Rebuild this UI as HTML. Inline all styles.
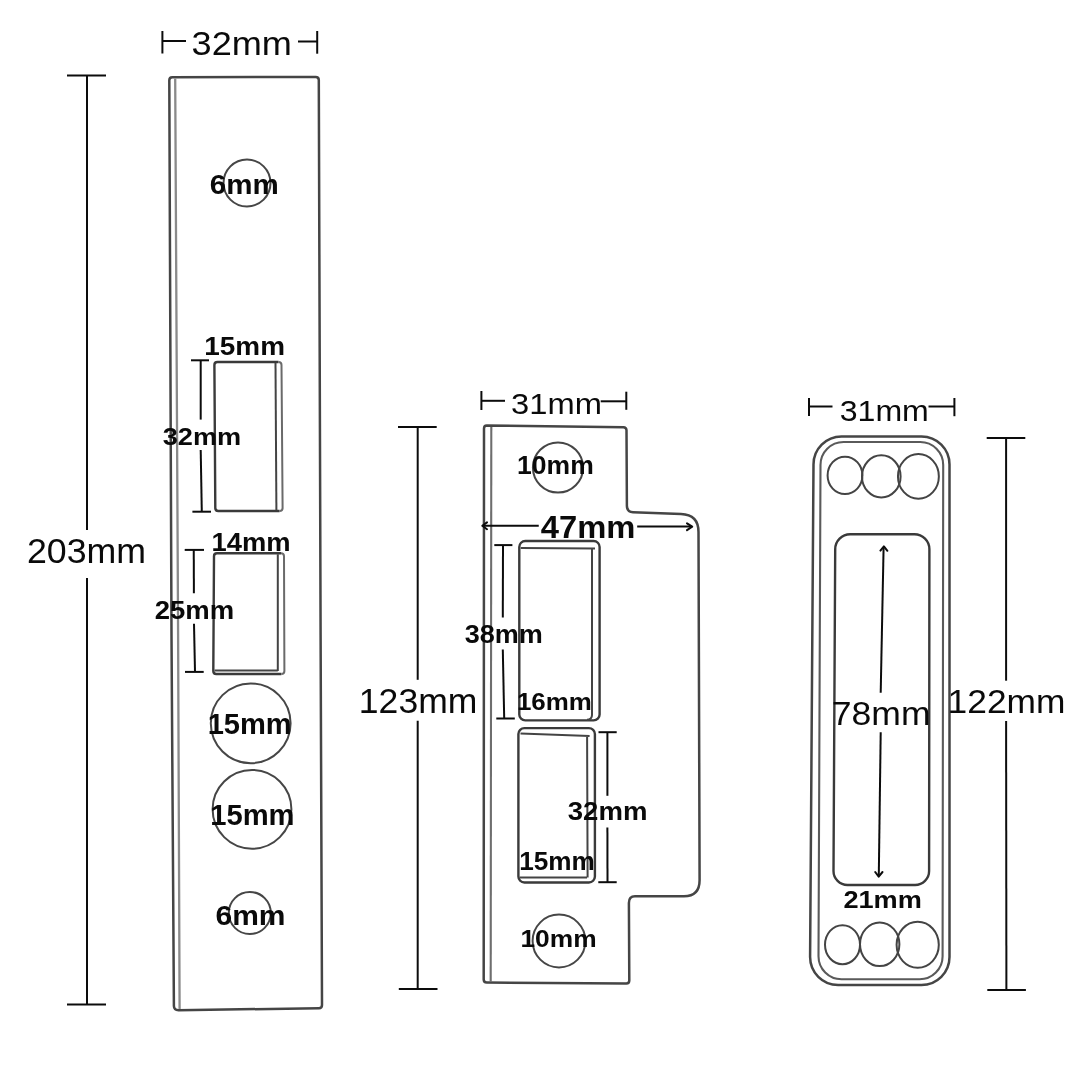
<!DOCTYPE html>
<html><head><meta charset="utf-8"><style>
html,body{margin:0;padding:0;background:#fff;width:1080px;height:1080px;overflow:hidden}
svg{display:block;filter:grayscale(1)}
.dim line,.dim polyline{stroke:#0c0c0c;stroke-width:2;fill:none}
.dim polyline{stroke-linejoin:round;stroke-linecap:round}
.pl .o{fill:none;stroke:#454545;stroke-width:2.5}
.pl .s{fill:none;stroke:#3a3a3a;stroke-width:2.4}
.pl .d{fill:none;stroke:#444;stroke-width:2}
.pl .l{fill:none;stroke:#6a6a6a;stroke-width:2}
.pl .b{fill:none;stroke:#8a8a8a;stroke-width:2.3}
.pl .b3{fill:none;stroke:#6e6e6e;stroke-width:2.1}
.pl .b2{fill:none;stroke:#5a5a5a;stroke-width:2.1}
.pl .h{fill:none;stroke:#464646;stroke-width:2}
.pl .h2{fill:none;stroke:#444;stroke-width:2}
.tx text{font-family:"Liberation Sans",sans-serif;fill:#0a0a0a}
</style></head><body>
<svg width="1080" height="1080" viewBox="0 0 1080 1080">
<g class="pl">
<path class="o" d="M172.3,77.2 L315.7,77 Q318.7,77 318.8,80 L320.6,635 L322,1005 Q322,1008.1 319,1008.2 L178.5,1010.2 Q174,1010.2 173.9,1006 L171.5,635 L169.3,80.2 Q169.3,77.2 172.3,77.2 Z"/>
<path class="b" d="M175.2,78.5 L178.1,635 L179.6,1009"/>
<path class="s" d="M279.6,511 L218.3,511 Q215.3,511 215.3,508 L214.4,365 Q214.4,362 217.4,362 L278.5,362"/>
<path class="l" d="M278.5,362 Q281.5,362 281.5,365 L282.6,508 Q282.6,511 279.6,511"/>
<path class="d" d="M275.5,363 L276.4,510"/>
<path class="s" d="M281.4,674 L216.3,674 Q213.3,674 213.3,671 L214,556.3 Q214,553.3 217,553.3 L281,553.3"/>
<path class="l" d="M281,553.3 Q284,553.3 284,556.3 L284.4,671 Q284.4,674 281.4,674"/>
<path class="d" d="M277.8,554.3 L277.8,671 M214.5,670.4 L277.8,670.4"/>
<circle class="h" cx="247" cy="183" r="23.5"/>
<circle class="h" cx="250.7" cy="723.3" r="39.9"/>
<circle class="h" cx="252" cy="809.3" r="39.4"/>
<circle class="h" cx="249.8" cy="913" r="21"/>
<path class="o" d="M486.7,425.6 L623.4,427.2 Q626.4,427.3 626.5,430.3 L626.9,506 Q627,512 633,512.2 L681,514 Q698.5,514.6 698.5,532 L699.6,880 Q699.6,896.3 684,896.3 L635,896.3 Q628.9,896.3 628.9,903 L629.3,980.5 Q629.3,983.5 626.3,983.5 L486.7,982.6 Q483.7,982.6 483.7,979.6 L484,428.6 Q484,425.6 486.7,425.6 Z"/>
<path class="b3" d="M491.3,427 L490.7,982"/>
<circle class="h" cx="558" cy="467.5" r="25.1"/>
<circle class="h" cx="559" cy="941" r="26.4"/>
<rect class="s" x="519.3" y="541" width="80.3" height="179.4" rx="6"/>
<path class="d" d="M520.7,547.9 L595,548.5 M592,548 L592,715 Q592,719.6 587,719.8"/>
<rect class="s" x="518.4" y="728.1" width="76.5" height="154.4" rx="6"/>
<path class="d" d="M520.5,733.5 L589.6,735.9 M587.1,735 L587.6,877.5 M519.5,877.5 L587,877.5"/>
<path class="o" d="M841.5,436.5 L921.5,436.5 A28,28 0 0 1 949.5,464.5 L949.5,957 A28,28 0 0 1 921.5,985 L838.1,985 A28,28 0 0 1 810.1,957 L813.5,464.5 A28,28 0 0 1 841.5,436.5 Z"/>
<path class="b2" d="M843.5,442 L920.2,442 A23,23 0 0 1 943.2,465 L942.6,956.2 A23,23 0 0 1 919.6,979.2 L841.5,979.2 A23,23 0 0 1 818.5,956.2 L820.5,465 A23,23 0 0 1 843.5,442 Z"/>
<path class="s" d="M850.2,534.2 L914.4,534.2 A15,15 0 0 1 929.4,549.2 L929.1,871 A14,14 0 0 1 915.1,885 L847.5,885 A14,14 0 0 1 833.5,871 L835.2,549.2 A15,15 0 0 1 850.2,534.2 Z"/>
<ellipse class="h2" cx="845" cy="475.4" rx="17.4" ry="18.7"/>
<ellipse class="h2" cx="881.3" cy="476.4" rx="19.3" ry="21.05"/>
<ellipse class="h2" cx="918.4" cy="476.4" rx="20.45" ry="22.3"/>
<ellipse class="h2" cx="842.5" cy="944.7" rx="17.5" ry="19.5"/>
<ellipse class="h2" cx="879.7" cy="944.3" rx="19.7" ry="21.8"/>
<ellipse class="h2" cx="917.7" cy="944.8" rx="21.1" ry="23"/>
</g>
<g class="dim">
<line x1="87" y1="75.5" x2="87" y2="530"/>
<line x1="87" y1="578" x2="87" y2="1004.6"/>
<line x1="67" y1="75.5" x2="106" y2="75.5"/>
<line x1="67" y1="1004.6" x2="106" y2="1004.6"/>
<line x1="162.4" y1="31" x2="162.4" y2="53.5"/>
<line x1="162.4" y1="41" x2="186" y2="41"/>
<line x1="317.2" y1="31" x2="317.2" y2="53.7"/>
<line x1="298" y1="41.5" x2="317.2" y2="41.5"/>
<line x1="191" y1="360.3" x2="209" y2="360.3"/>
<line x1="200.7" y1="360.3" x2="200.7" y2="419.6"/>
<line x1="200.7" y1="450" x2="201.8" y2="511.7"/>
<line x1="192.4" y1="511.7" x2="211" y2="511.7"/>
<line x1="184.7" y1="549.9" x2="204" y2="549.9"/>
<line x1="193.75" y1="549.9" x2="193.9" y2="593.3"/>
<line x1="194" y1="623.7" x2="195" y2="671.9"/>
<line x1="185" y1="671.9" x2="203.7" y2="671.9"/>
<line x1="398" y1="426.9" x2="436.7" y2="426.9"/>
<line x1="417.7" y1="426.9" x2="417.7" y2="679.8"/>
<line x1="417.7" y1="720.7" x2="417.7" y2="989"/>
<line x1="398.8" y1="989" x2="437.5" y2="989"/>
<line x1="481.4" y1="391" x2="481.4" y2="410"/>
<line x1="481.4" y1="400.8" x2="505" y2="400.8"/>
<line x1="626.3" y1="391.7" x2="626.3" y2="409.8"/>
<line x1="600.7" y1="401.3" x2="626.3" y2="401.3"/>
<line x1="494.3" y1="545.1" x2="512.4" y2="545.1"/>
<line x1="503" y1="545.1" x2="502.8" y2="617.5"/>
<line x1="502.8" y1="649.6" x2="504.2" y2="718.5"/>
<line x1="496.3" y1="718.5" x2="514.8" y2="718.5"/>
<line x1="598.5" y1="732.2" x2="616.7" y2="732.2"/>
<line x1="607.4" y1="732.2" x2="607.4" y2="795.8"/>
<line x1="607.4" y1="827.5" x2="607.5" y2="882.2"/>
<line x1="598.3" y1="882.2" x2="616.7" y2="882.2"/>
<line x1="809" y1="398" x2="809" y2="416"/>
<line x1="809" y1="406.5" x2="832.5" y2="406.5"/>
<line x1="954.4" y1="398" x2="954.4" y2="416.2"/>
<line x1="928.5" y1="406.5" x2="954.4" y2="406.5"/>
<line x1="986.7" y1="437.9" x2="1025.3" y2="437.9"/>
<line x1="1006.1" y1="437.9" x2="1006.1" y2="680.7"/>
<line x1="1006.1" y1="720.9" x2="1006.4" y2="990"/>
<line x1="987.3" y1="990" x2="1025.9" y2="990"/>
<line x1="483" y1="525.8" x2="538.75" y2="525.8"/>
<line x1="637.2" y1="526.4" x2="691.5" y2="526.6"/>
<polyline points="487,522.4 482.3,525.8 487,529.2"/>
<polyline points="687,523.3 692.2,526.7 687,530.1"/>
<line x1="883.6" y1="547" x2="880.7" y2="692.7"/>
<line x1="880.7" y1="732.2" x2="878.8" y2="875.5"/>
<polyline points="880.4,550.6 883.9,546.4 887.4,550.8"/>
<polyline points="875.2,872 878.7,876.6 882.5,872"/>
</g>
<g class="tx">
<text transform="translate(191.55 54.50) scale(1.0812 1)" font-size="33.43" font-weight="400">32mm</text>
<text transform="translate(27.01 562.90) scale(1.0417 1)" font-size="34.29" font-weight="400">203mm</text>
<text transform="translate(511.09 414.00) scale(1.0796 1)" font-size="30.29" font-weight="400">31mm</text>
<text transform="translate(358.86 712.90) scale(1.0368 1)" font-size="34.29" font-weight="400">123mm</text>
<text transform="translate(839.72 420.60) scale(1.0699 1)" font-size="30.00" font-weight="400">31mm</text>
<text transform="translate(831.82 725.10) scale(1.0684 1)" font-size="33.29" font-weight="400">78mm</text>
<text transform="translate(947.57 713.40) scale(1.0809 1)" font-size="32.71" font-weight="400">122mm</text>
<text transform="translate(209.82 193.50) scale(1.0887 1)" font-size="27.14" font-weight="700">6mm</text>
<text transform="translate(204.33 354.70) scale(1.0940 1)" font-size="25.51" font-weight="700">15mm</text>
<text transform="translate(162.66 445.00) scale(1.1065 1)" font-size="24.57" font-weight="700">32mm</text>
<text transform="translate(211.56 551.00) scale(1.0714 1)" font-size="25.51" font-weight="700">14mm</text>
<text transform="translate(154.78 619.00) scale(1.0694 1)" font-size="25.71" font-weight="700">25mm</text>
<text transform="translate(207.65 733.90) scale(1.0039 1)" font-size="28.99" font-weight="700">15mm</text>
<text transform="translate(210.15 824.60) scale(1.0127 1)" font-size="28.84" font-weight="700">15mm</text>
<text transform="translate(215.50 925.10) scale(1.0825 1)" font-size="27.71" font-weight="700">6mm</text>
<text transform="translate(517.11 473.70) scale(1.0614 1)" font-size="25.00" font-weight="700">10mm</text>
<text transform="translate(540.85 537.60) scale(1.0606 1)" font-size="30.87" font-weight="700">47mm</text>
<text transform="translate(464.66 643.00) scale(1.0757 1)" font-size="25.14" font-weight="700">38mm</text>
<text transform="translate(516.94 710.40) scale(1.0751 1)" font-size="24.14" font-weight="700">16mm</text>
<text transform="translate(567.75 820.00) scale(1.0726 1)" font-size="25.71" font-weight="700">32mm</text>
<text transform="translate(519.23 870.00) scale(1.0500 1)" font-size="24.93" font-weight="700">15mm</text>
<text transform="translate(520.42 946.80) scale(1.1046 1)" font-size="23.86" font-weight="700">10mm</text>
<text transform="translate(843.38 907.50) scale(1.1061 1)" font-size="24.57" font-weight="700">21mm</text>
</g>
</svg>
</body></html>
